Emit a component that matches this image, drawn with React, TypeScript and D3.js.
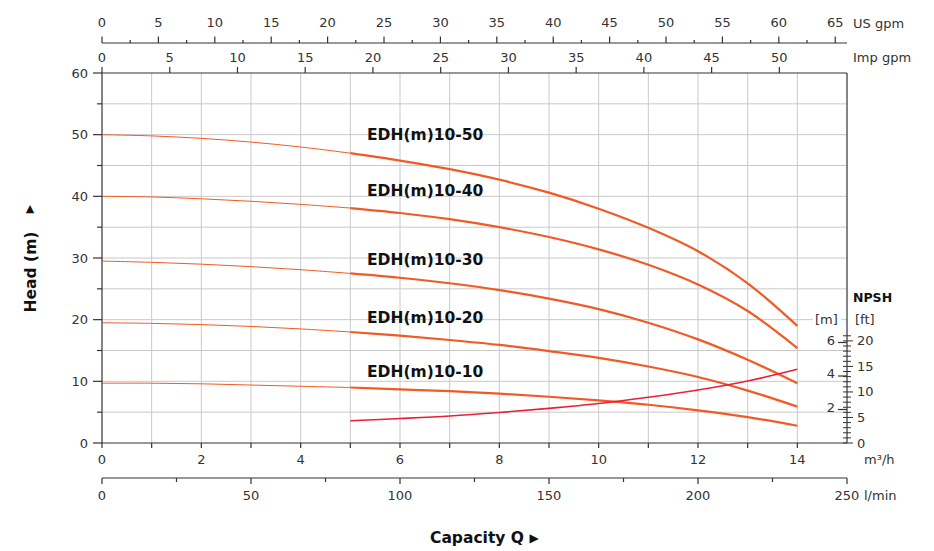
import React from "react";
import * as d3 from "d3";

// ---- data ----
const flowQ = [0, 1, 2, 3, 4, 5, 6, 7, 8, 9, 10, 11, 12, 13, 14];
const seriesNames = ["EDH(m)10-50", "EDH(m)10-40", "EDH(m)10-30", "EDH(m)10-20", "EDH(m)10-10"];
const head50 = [50.0, 49.8, 49.4, 48.8, 48.0, 47.0, 45.8, 44.4, 42.7, 40.6, 38.0, 34.9, 31.1, 25.9, 19.0];
const head40 = [40.0, 39.9, 39.6, 39.2, 38.7, 38.1, 37.3, 36.3, 35.0, 33.4, 31.4, 28.9, 25.7, 21.4, 15.4];
const head30 = [29.5, 29.3, 29.0, 28.6, 28.1, 27.5, 26.8, 25.9, 24.8, 23.4, 21.7, 19.5, 16.8, 13.5, 9.7];
const head20 = [19.5, 19.4, 19.2, 18.9, 18.5, 18.0, 17.4, 16.7, 15.9, 14.9, 13.8, 12.4, 10.7, 8.5, 5.9];
const head10 = [9.7, 9.7, 9.6, 9.4, 9.2, 9.0, 8.7, 8.4, 8.0, 7.5, 6.9, 6.2, 5.3, 4.2, 2.8];
const heads = [head50, head40, head30, head20, head10];
const labelHead = [50.1, 40.9, 29.8, 20.3, 11.6];
const npshQ = [5, 6, 7, 8, 9, 10, 11, 12, 13, 14];
const npshM = [1.33, 1.46, 1.61, 1.82, 2.07, 2.36, 2.73, 3.16, 3.7, 4.4];

const m3hTicks = [0, 2, 4, 6, 8, 10, 12, 14];
const headTicks = [0, 10, 20, 30, 40, 50, 60];
const usGpmTicks = [0, 5, 10, 15, 20, 25, 30, 35, 40, 45, 50, 55, 60, 65];
const impGpmTicks = [0, 5, 10, 15, 20, 25, 30, 35, 40, 45, 50];
const lminTicks = [0, 50, 100, 150, 200, 250];
const npshMTicks = [2, 4, 6];
const npshFtTicks = [0, 5, 10, 15, 20];

const FONT = "DejaVu Sans, sans-serif";
const CURVE = "#f15a24";
const NPSHC = "#e8203a";
const GRID = "#c9c9c9";
const AX = "#333";

export default function App() {
  const x = d3.scaleLinear().domain([0, 15]).range([102, 847]);
  const y = d3.scaleLinear().domain([0, 60]).range([443, 73]);
  const yN = d3.scaleLinear().domain([0, 6]).range([443, 342.5]);
  const xUs = d3.scaleLinear().domain([0, 15 * 4.40287]).range([102, 847]);
  const xImp = d3.scaleLinear().domain([0, 15 * 3.66615]).range([102, 847]);
  const xL = d3.scaleLinear().domain([0, 250]).range([102, 847]);
  const ftToM = 0.3048;

  const line = d3
    .line<[number, number]>()
    .x((d) => x(d[0]))
    .y((d) => y(d[1]))
    .curve(d3.curveCatmullRom);
  const lineN = d3
    .line<[number, number]>()
    .x((d) => x(d[0]))
    .y((d) => yN(d[1]))
    .curve(d3.curveCatmullRom);

  const gridX = d3.range(1, 15);
  const gridY = d3.range(5, 60, 5);
  const m3hMinor = d3.range(0, 15);
  const usMinor = d3.range(0, 66, 2.5);
  const lMinor = d3.range(0, 251, 25);
  const ftMinor = d3.range(0, 22, 1);
  const headMinor = d3.range(5, 60, 10);

  return (
    <svg width={934} height={551} style={{ position: "absolute", left: 0, top: 0, background: "#fff" }} fontFamily={FONT}>
      <rect x={0} y={0} width={934} height={551} fill="#fff" />
      {/* grid */}
      {gridX.map((q) => (
        <line key={"gx" + q} x1={x(q)} x2={x(q)} y1={73} y2={443} stroke={GRID} strokeWidth={1} />
      ))}
      {gridY.map((h) => (
        <line key={"gy" + h} x1={102} x2={847} y1={y(h)} y2={y(h)} stroke={GRID} strokeWidth={1} />
      ))}

      {/* head curves */}
      {heads.map((hs, i) => {
        const pts: [number, number][] = flowQ.map((q, j) => [q, hs[j]]);
        const thin = pts.filter((p) => p[0] <= 5);
        const thick = pts.filter((p) => p[0] >= 5);
        return (
          <g key={"c" + i}>
            <path d={line(thin) || ""} fill="none" stroke={CURVE} strokeWidth={1} />
            <path d={line(thick) || ""} fill="none" stroke={CURVE} strokeWidth={2.2} />
          </g>
        );
      })}
      {/* NPSH curve */}
      <path
        d={lineN(npshQ.map((q, j) => [q, npshM[j]] as [number, number])) || ""}
        fill="none"
        stroke={NPSHC}
        strokeWidth={1.6}
      />

      {/* series labels */}
      {seriesNames.map((n, i) => (
        <text key={"l" + i} x={367} y={y(labelHead[i]) + 5.5} fontSize={15.5} fontWeight="bold" fill="#111">
          {n}
        </text>
      ))}

      {/* frame */}
      <line x1={102} x2={102} y1={73} y2={443} stroke={AX} strokeWidth={1.2} />
      <line x1={847} x2={847} y1={73} y2={443} stroke={AX} strokeWidth={1.2} />
      <line x1={102} x2={847} y1={73} y2={73} stroke={AX} strokeWidth={1.2} />
      <line x1={102} x2={847} y1={443} y2={443} stroke={AX} strokeWidth={1.2} />

      {/* left axis */}
      {headTicks.map((h) => (
        <g key={"ht" + h}>
          <line x1={93} x2={102} y1={y(h)} y2={y(h)} stroke={AX} strokeWidth={1.2} />
          <text x={88} y={y(h) + 4.5} fontSize={13} textAnchor="end" fill="#333">
            {h}
          </text>
        </g>
      ))}
      {headMinor.map((h) => (
        <line key={"hm" + h} x1={97} x2={102} y1={y(h)} y2={y(h)} stroke={AX} strokeWidth={1.2} />
      ))}
      <text
        transform="translate(36,272) rotate(-90)"
        fontSize={15.5}
        fontWeight="bold"
        textAnchor="middle"
        fill="#111"
      >
        Head (m)
      </text>
      <text x={30} y={212} fontSize={11} textAnchor="middle" fill="#111">
        ▲
      </text>

      {/* bottom m3/h axis */}
      {m3hMinor.map((q) => (
        <line key={"bm" + q} x1={x(q)} x2={x(q)} y1={443} y2={448} stroke={AX} strokeWidth={1.2} />
      ))}
      {m3hTicks.map((q) => (
        <text key={"bt" + q} x={x(q)} y={464} fontSize={13} textAnchor="middle" fill="#333">
          {q}
        </text>
      ))}
      <text x={864} y={464} fontSize={13} fill="#333">
        m³/h
      </text>

      {/* l/min axis */}
      <line x1={102} x2={847} y1={478} y2={478} stroke={AX} strokeWidth={1.2} />
      {lMinor.map((v) => (
        <line key={"lm" + v} x1={xL(v)} x2={xL(v)} y1={478} y2={v % 50 === 0 ? 484 : 482} stroke={AX} strokeWidth={1.2} />
      ))}
      {lminTicks.map((v) => (
        <text key={"lt" + v} x={xL(v)} y={500} fontSize={13} textAnchor="middle" fill="#333">
          {v}
        </text>
      ))}
      <text x={864} y={500} fontSize={13} fill="#333">
        l/min
      </text>
      <text x={477} y={543} fontSize={15.5} fontWeight="bold" textAnchor="middle" fill="#111">
        Capacity Q
      </text>
      <text x={534} y={542} fontSize={12} textAnchor="middle" fill="#111">
        ▶
      </text>

      {/* US gpm axis */}
      <line x1={102} x2={847} y1={43} y2={43} stroke={AX} strokeWidth={1.2} />
      {usMinor.map((v) => (
        <line key={"um" + v} x1={xUs(v)} x2={xUs(v)} y1={v % 5 === 0 ? 36.5 : 40} y2={43} stroke={AX} strokeWidth={1.2} />
      ))}
      {usGpmTicks.map((v) => (
        <text key={"ut" + v} x={xUs(v)} y={27} fontSize={13} textAnchor="middle" fill="#333">
          {v}
        </text>
      ))}
      <text x={853} y={28} fontSize={13} fill="#333">
        US gpm
      </text>

      {/* Imp gpm axis */}
      {impGpmTicks.map((v) => (
        <g key={"it" + v}>
          <line x1={xImp(v)} x2={xImp(v)} y1={67} y2={73} stroke={AX} strokeWidth={1.2} />
          <text x={xImp(v)} y={61.5} fontSize={13} textAnchor="middle" fill="#333">
            {v}
          </text>
        </g>
      ))}
      <text x={853} y={62} fontSize={13} fill="#333">
        Imp gpm
      </text>

      {/* NPSH axis */}
      {ftMinor.map((f) => (
        <line
          key={"fm" + f}
          x1={843}
          x2={f % 5 === 0 ? 853 : 851}
          y1={yN(f * ftToM)}
          y2={yN(f * ftToM)}
          stroke={AX}
          strokeWidth={1}
        />
      ))}
      {npshMTicks.map((m) => (
        <g key={"nm" + m}>
          <line x1={838} x2={847} y1={yN(m)} y2={yN(m)} stroke={AX} strokeWidth={1.2} />
          <text x={835} y={yN(m) + 2} fontSize={13} textAnchor="end" fill="#333">
            {m}
          </text>
        </g>
      ))}
      {npshFtTicks.map((f) => (
        <text key={"nf" + f} x={857} y={yN(f * ftToM) + 4.5} fontSize={13} fill="#333">
          {f}
        </text>
      ))}
      <rect x={813} y={310} width={28} height={17} fill="#fff" />
      <text x={815} y={324} fontSize={13} fill="#333">
        [m]
      </text>
      <text x={855} y={324} fontSize={13} fill="#333">
        [ft]
      </text>
      <text x={853} y={302} fontSize={12.5} fontWeight="bold" fill="#111">
        NPSH
      </text>
    </svg>
  );
}
